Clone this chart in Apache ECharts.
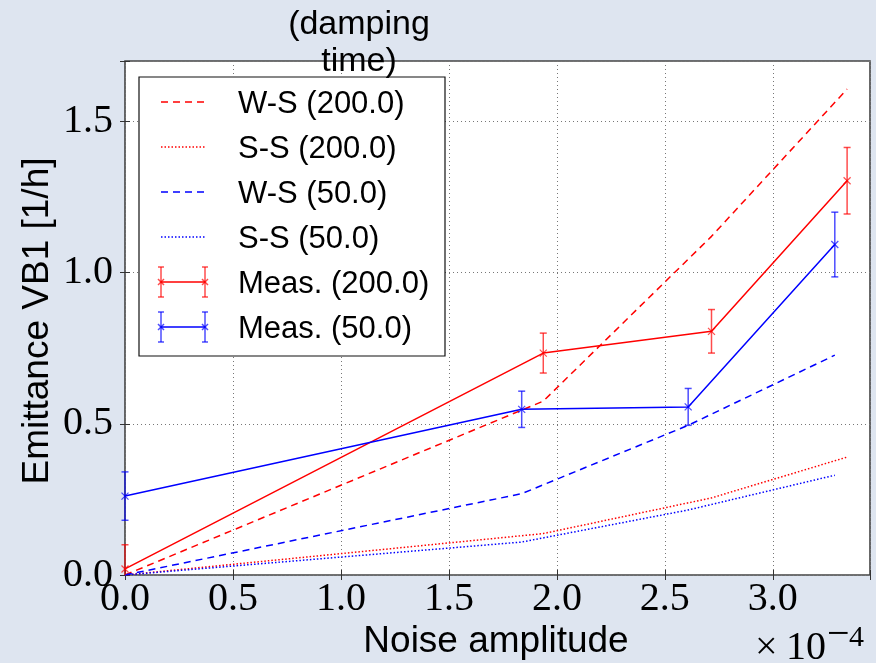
<!DOCTYPE html>
<html><head><meta charset="utf-8">
<script src="https://cdn.jsdelivr.net/npm/echarts@6/dist/echarts.min.js"></script>
<style>html,body{margin:0;padding:0;background:#dee5f0;} #c{width:876px;height:663px;}</style>
</head><body><div id="c"></div>
<script>
// ---- data (noise amplitude in units of 1e-4) ----
const xRed = [0, 1.937, 2.716, 3.344];
const measRed = [0.02, 0.734, 0.806, 1.304];
const errRed = [0.08, 0.066, 0.072, 0.11];
const xBlue = [0, 1.837, 2.608, 3.287];
const measBlue = [0.261, 0.548, 0.556, 1.093];
const errBlue = [0.08, 0.06, 0.061, 0.107];
const wsRed = [0, 0.575, 1.12, 1.607];
const ssRed = [0, 0.137, 0.255, 0.39];
const wsBlue = [0, 0.269, 0.495, 0.727];
const ssBlue = [0, 0.109, 0.215, 0.33];
const xTickLabels = ['0.0', '0.5', '1.0', '1.5', '2.0', '2.5', '3.0'];
const yTickLabels = ['0.0', '0.5', '1.0', '1.5'];
const legendLabels = ['W-S (200.0)', 'S-S (200.0)', 'W-S (50.0)', 'S-S (50.0)', 'Meas. (200.0)', 'Meas. (50.0)'];
const legendTitle = ['(damping', 'time)'];
const xName = 'Noise amplitude';
const yName = 'Emittance VB1 [1/h]';
const xScaleText = ['\u00d7', '10', '\u2212', '4'];

const RED = '#ff0000', BLUE = '#0000ff';
const DASH = [7, 5], DOT = [1.5, 2];
const YMIN = 0, YMAX = 1.7;
const zip = (a, b) => a.map((v, i) => [v, b[i]]);
const zip3 = (a, b, c) => a.map((v, i) => [v, b[i], c[i]]);

function fmt(labels, step) {
  return function (v) {
    const k = Math.round(v / step);
    if (Math.abs(v / step - k) > 1e-6) return '';
    return labels[k] !== undefined ? labels[k] : '';
  };
}

function errRender(color) {
  return function (params, api) {
    const x = api.value(0), y = api.value(1), e = api.value(2);
    const lo = Math.max(y - e, YMIN), hi = Math.min(y + e, YMAX);
    const p = api.coord([x, y]);
    const t = api.coord([x, hi]);
    const b = api.coord([x, lo]);
    const s = { stroke: color, lineWidth: 1.5, opacity: 0.7 };
    const sm = { stroke: color, lineWidth: 1.2, opacity: 0.7 };
    const c = 3.5, m = 3.5;
    const ch = [
      { type: 'line', shape: { x1: p[0], y1: t[1], x2: p[0], y2: b[1] }, style: s },
      { type: 'line', shape: { x1: p[0] - m, y1: p[1] - m, x2: p[0] + m, y2: p[1] + m }, style: sm },
      { type: 'line', shape: { x1: p[0] - m, y1: p[1] + m, x2: p[0] + m, y2: p[1] - m }, style: sm }
    ];
    if (y + e <= YMAX) ch.push({ type: 'line', shape: { x1: p[0] - c, y1: t[1], x2: p[0] + c, y2: t[1] }, style: s });
    if (y - e >= YMIN) ch.push({ type: 'line', shape: { x1: p[0] - c, y1: b[1], x2: p[0] + c, y2: b[1] }, style: s });
    return { type: 'group', children: ch };
  };
}

const tickFont = { fontFamily: 'Liberation Serif', fontSize: 40, color: '#000' };
const gridLine = { show: true, lineStyle: { color: '#777', width: 1, type: [1, 3] } };

// ---- legend graphic ----
const LX0 = 139, LY0 = 77, LX1 = 445, LY1 = 356;
const rowY = legendLabels.map((_, i) => 102 + 45 * i);
const sampleX0 = 161, sampleX1 = 205;
const legendStyles = [
  { color: RED, dash: DASH }, { color: RED, dash: DOT },
  { color: BLUE, dash: DASH }, { color: BLUE, dash: DOT },
  { color: RED, dash: null, err: true }, { color: BLUE, dash: null, err: true }
];
const g = [];
g.push({ type: 'rect', shape: { x: LX0, y: LY0, width: LX1 - LX0, height: LY1 - LY0 },
  style: { fill: '#fff', stroke: '#111', lineWidth: 1.2 }, z: 100 });
legendLabels.forEach((lab, i) => {
  const y = rowY[i], st = legendStyles[i];
  g.push({ type: 'line', shape: { x1: sampleX0, y1: y, x2: sampleX1, y2: y },
    style: { stroke: st.color, lineWidth: 1.5, lineDash: st.dash || null }, z: 101 });
  if (st.err) {
    [sampleX0, sampleX1].forEach(x => {
      const s = { stroke: st.color, lineWidth: 1.5, opacity: 0.7 };
      g.push({ type: 'line', shape: { x1: x, y1: y - 15, x2: x, y2: y + 15 }, style: s, z: 101 });
      g.push({ type: 'line', shape: { x1: x - 3, y1: y - 15, x2: x + 3, y2: y - 15 }, style: s, z: 101 });
      g.push({ type: 'line', shape: { x1: x - 3, y1: y + 15, x2: x + 3, y2: y + 15 }, style: s, z: 101 });
      g.push({ type: 'line', shape: { x1: x - 3, y1: y - 3, x2: x + 3, y2: y + 3 }, style: s, z: 101 });
      g.push({ type: 'line', shape: { x1: x - 3, y1: y + 3, x2: x + 3, y2: y - 3 }, style: s, z: 101 });
    });
  }
  g.push({ type: 'text', x: 238, y: y + 2.5, z: 101,
    style: { text: lab, fill: '#000', font: '31px "Liberation Sans"', textAlign: 'left', textVerticalAlign: 'middle' } });
});
legendTitle.forEach((t, i) => {
  g.push({ type: 'text', x: 359, y: 25 + 37 * i, z: 102,
    style: { text: t, fill: '#000', font: '34px "Liberation Sans"', textAlign: 'center', textVerticalAlign: 'middle' } });
});
g.push({ type: 'text', x: 496, y: 642,
  style: { text: xName, fill: '#000', font: '37px "Liberation Sans"', textAlign: 'center', textVerticalAlign: 'middle' } });
g.push({ type: 'text', x: 38, y: 321, rotation: Math.PI / 2,
  style: { text: yName, fill: '#000', font: '37px "Liberation Sans"', textAlign: 'center', textVerticalAlign: 'middle' } });
// x10^-4 offset text
g.push({ type: 'text', x: 755, y: 648,
  style: { text: xScaleText[0], fill: '#000', font: '40px "Liberation Serif"', textAlign: 'left', textVerticalAlign: 'middle' } });
g.push({ type: 'text', x: 786, y: 648,
  style: { text: xScaleText[1], fill: '#000', font: '40px "Liberation Serif"', textAlign: 'left', textVerticalAlign: 'middle' } });
g.push({ type: 'text', x: 827, y: 635,
  style: { text: xScaleText[2], fill: '#000', font: '40px "Liberation Serif"', textAlign: 'left', textVerticalAlign: 'middle' } });
g.push({ type: 'text', x: 849, y: 638,
  style: { text: xScaleText[3], fill: '#000', font: '30px "Liberation Serif"', textAlign: 'left', textVerticalAlign: 'middle' } });

const chart = echarts.init(document.getElementById('c'), null, { renderer: 'canvas' });
chart.setOption({
  backgroundColor: '#dee5f0',
  animation: false,
  grid: { left: 125, right: 6, top: 61, bottom: 88, show: true, backgroundColor: '#fff', borderColor: '#444', borderWidth: 1.6 },
  xAxis: [
    { type: 'value', min: 0, max: 3.45, interval: 0.5, position: 'bottom',
      axisLine: { show: false }, axisTick: { show: true, inside: true, length: 5, lineStyle: { color: '#333' } },
      axisLabel: Object.assign({ margin: 4, formatter: fmt(xTickLabels, 0.5) }, tickFont),
      splitLine: gridLine },
    { type: 'value', min: 0, max: 3.45, interval: 0.5, position: 'top',
      axisLine: { show: false }, axisTick: { show: true, inside: true, length: 5, lineStyle: { color: '#333' } },
      axisLabel: { show: false }, splitLine: { show: false } }
  ],
  yAxis: [
    { type: 'value', min: YMIN, max: YMAX, interval: 0.5, position: 'left',
      axisLine: { show: false }, axisTick: { show: true, inside: true, length: 5, lineStyle: { color: '#333' } },
      axisLabel: Object.assign({ margin: 12, formatter: fmt(yTickLabels, 0.5) }, tickFont),
      splitLine: gridLine },
    { type: 'value', min: YMIN, max: YMAX, interval: 0.5, position: 'right',
      axisLine: { show: false }, axisTick: { show: true, inside: true, length: 5, lineStyle: { color: '#333' } },
      axisLabel: { show: false }, splitLine: { show: false } }
  ],
  series: [
    { name: legendLabels[0], type: 'line', data: zip(xRed, wsRed), symbol: 'none', lineStyle: { color: RED, width: 1.5, type: DASH } },
    { name: legendLabels[1], type: 'line', data: zip(xRed, ssRed), symbol: 'none', lineStyle: { color: RED, width: 1.5, type: DOT } },
    { name: legendLabels[2], type: 'line', data: zip(xBlue, wsBlue), symbol: 'none', lineStyle: { color: BLUE, width: 1.5, type: DASH } },
    { name: legendLabels[3], type: 'line', data: zip(xBlue, ssBlue), symbol: 'none', lineStyle: { color: BLUE, width: 1.5, type: DOT } },
    { name: legendLabels[4], type: 'line', data: zip(xRed, measRed), symbol: 'none', lineStyle: { color: RED, width: 1.5 } },
    { name: legendLabels[5], type: 'line', data: zip(xBlue, measBlue), symbol: 'none', lineStyle: { color: BLUE, width: 1.5 } },
    { type: 'custom', clip: false, data: zip3(xRed, measRed, errRed), renderItem: errRender(RED), z: 5 },
    { type: 'custom', clip: false, data: zip3(xBlue, measBlue, errBlue), renderItem: errRender(BLUE), z: 5 }
  ],
  graphic: g
});
</script>
</body></html>
